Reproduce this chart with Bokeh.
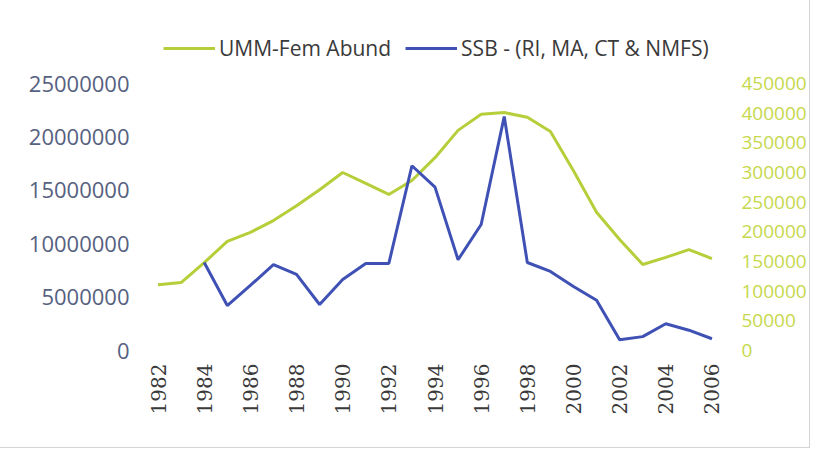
import math
from bokeh.plotting import figure
from bokeh.models import (Range1d, LinearAxis, FixedTicker, NumeralTickFormatter,
                          Legend, LegendItem, ColumnDataSource)
from bokeh.embed import file_html
from bokeh.resources import INLINE

years = list(range(1982, 2007))
umm_fem_abund = [111000, 114500, 148000, 184000, 199000, 219000, 244000, 271000,
                 300000, 281500, 263000, 286500, 325000, 371000, 398000, 401000,
                 393000, 369000, 303000, 233000, 187000, 145000, 157000, 170000, 155000]
ssb = [float("nan"), float("nan"), 8240000, 4210000, 6090000, 8050000, 7120000, 4310000,
       6650000, 8150000, 8150000, 17300000, 15300000, 8500000, 11800000, 21900000,
       8240000, 7400000, 6000000, 4700000, 1000000, 1300000, 2500000, 1900000, 1100000]
left_ticks = [0, 5000000, 10000000, 15000000, 20000000, 25000000]
right_ticks = [0, 50000, 100000, 150000, 200000, 250000, 300000, 350000, 400000, 450000]
x_ticks = list(range(1982, 2007, 2))
series_names = ["UMM-Fem Abund", "SSB - (RI, MA, CT & NMFS)"]

GREEN = "#b5cf3a"
BLUE = "#3f51b5"

# frame spans from the legend row down to the zero line; axis maxima sit 267 px above zero
FRAME_H = 330
AXIS_H = 267
left_top = left_ticks[-1] * FRAME_H / AXIS_H
right_top = right_ticks[-1] * FRAME_H / AXIS_H

src = ColumnDataSource(dict(year=years, umm=umm_fem_abund, ssb=ssb))

p = figure(width=809, height=447, output_backend="svg", toolbar_location=None,
           x_range=Range1d(1981.5, 2006.5), y_range=Range1d(0, left_top))
p.min_border_left = 146
p.min_border_right = 84
p.min_border_top = 20
p.min_border_bottom = 97
p.outline_line_color = None
p.background_fill_color = "white"
p.border_fill_color = "white"
p.xgrid.visible = False
p.ygrid.visible = False
p.styles = {"outline": "1px solid #d4d4d4"}

p.extra_y_ranges = {"right": Range1d(0, right_top)}

# left axis
la = p.yaxis[0]
la.ticker = FixedTicker(ticks=left_ticks)
la.formatter = NumeralTickFormatter(format="0")
la.axis_line_color = None
la.major_tick_line_color = None
la.minor_tick_line_color = None
la.major_label_standoff = 11
la.major_label_text_font = "Open Sans"
la.major_label_text_font_size = "22px"
la.major_label_text_color = "#56617f"

# right axis
ra = LinearAxis(y_range_name="right")
ra.ticker = FixedTicker(ticks=right_ticks)
ra.formatter = NumeralTickFormatter(format="0")
ra.axis_line_color = None
ra.major_tick_line_color = None
ra.minor_tick_line_color = None
ra.major_label_standoff = 12
ra.major_label_text_font = "Open Sans"
ra.major_label_text_font_size = "19px"
ra.major_label_text_color = "#c6d84c"
p.add_layout(ra, "right")

# bottom axis
xa = p.xaxis[0]
xa.ticker = FixedTicker(ticks=x_ticks)
xa.axis_line_color = None
xa.major_tick_line_color = None
xa.minor_tick_line_color = None
xa.major_label_orientation = math.pi / 2
xa.major_label_standoff = 7
xa.major_label_text_font = "DejaVu Serif"
xa.major_label_text_font_size = "20px"
xa.major_label_text_color = "#3a3a3a"

g = p.line("year", "umm", source=src, y_range_name="right", line_color=GREEN, line_width=3)
b = p.line("year", "ssb", source=src, line_color=BLUE, line_width=3)

legend = Legend(items=[LegendItem(label=series_names[0], renderers=[g]),
                       LegendItem(label=series_names[1], renderers=[b])],
                orientation="horizontal", location=(17, 288))
legend.padding = 0
legend.margin = 0
legend.spacing = 14
legend.glyph_width = 52
legend.glyph_height = 24
legend.label_standoff = 4
legend.label_height = 24
legend.label_text_font = "Open Sans"
legend.label_text_font_size = "21px"
legend.label_text_color = "#3a3a3a"
legend.border_line_color = None
legend.background_fill_alpha = 0
p.add_layout(legend, "center")

open("out.html", "w").write(file_html(p, INLINE))
